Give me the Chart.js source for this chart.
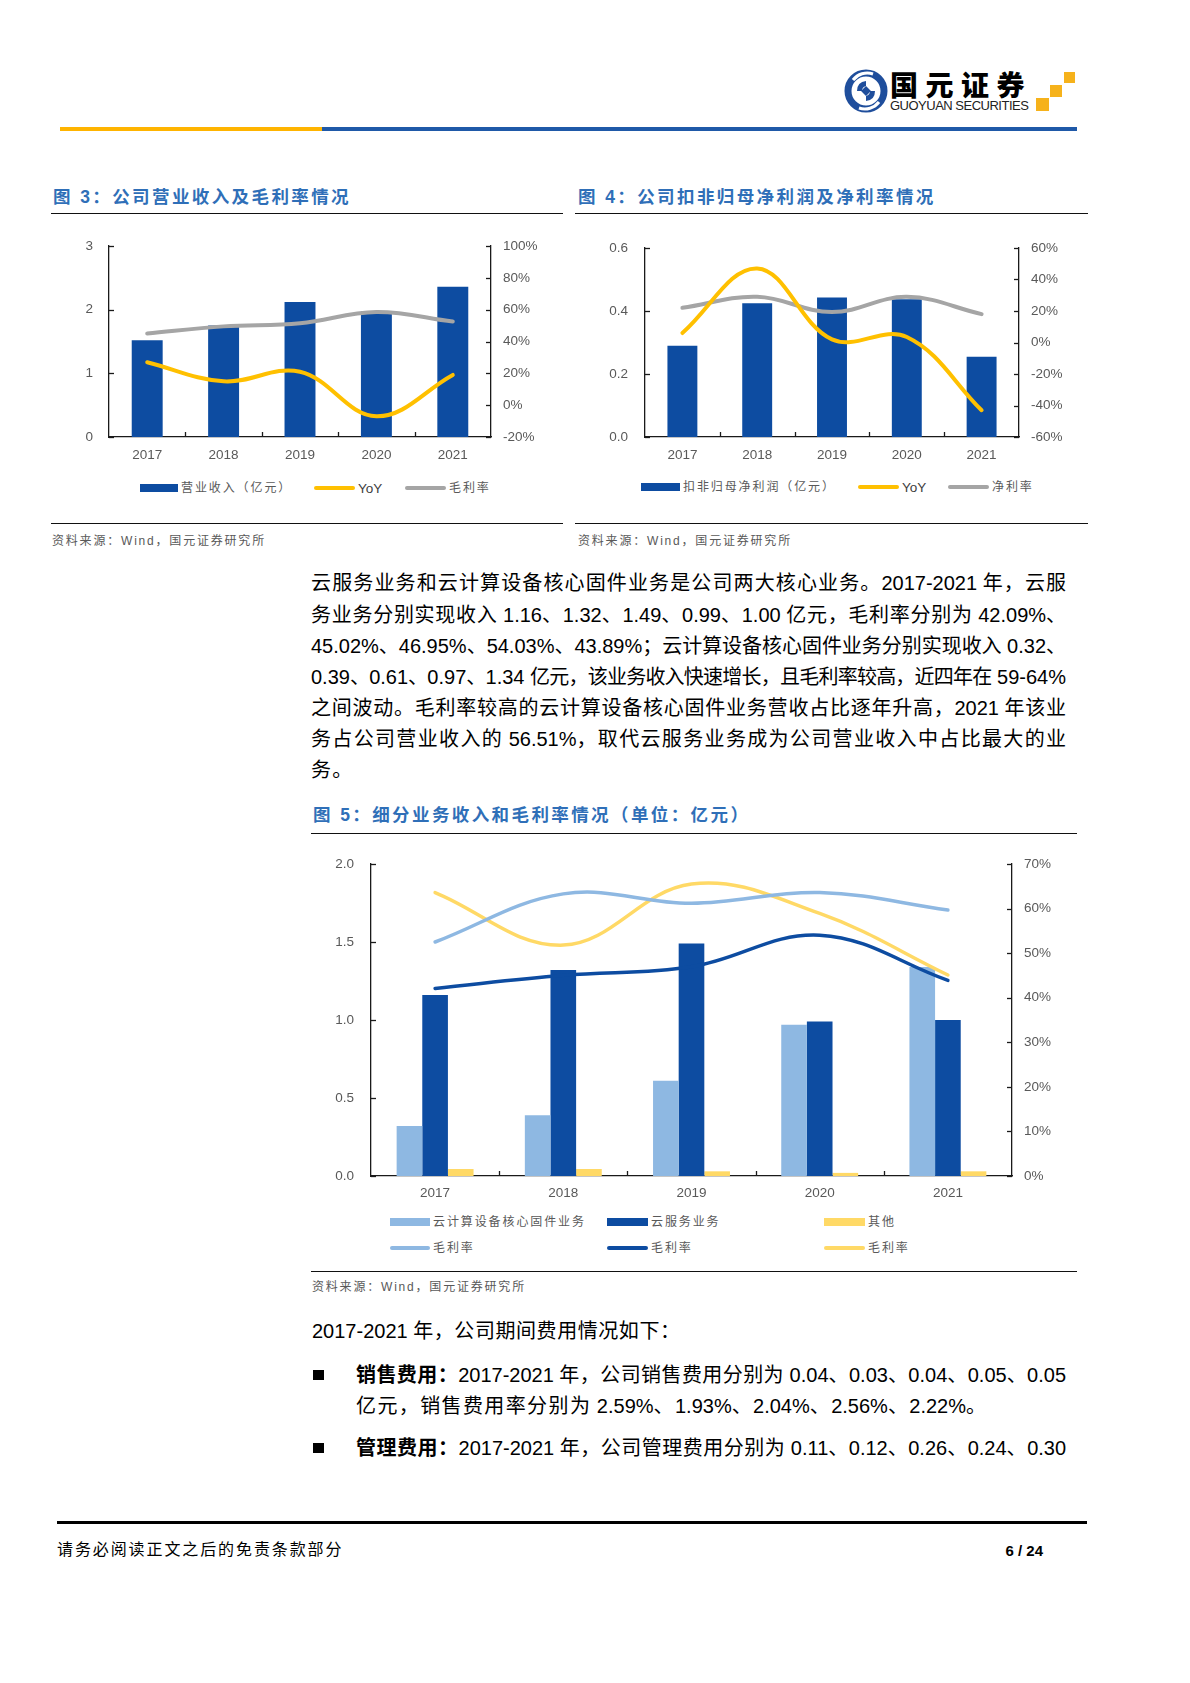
<!DOCTYPE html>
<html><head><meta charset="utf-8">
<script src="https://cdn.jsdelivr.net/npm/chart.js@4.4.1/dist/chart.umd.min.js"></script>
<style>
html,body{margin:0;padding:0;background:#fff;}
body{width:1190px;height:1683px;position:relative;overflow:hidden;font-family:"Liberation Sans","Noto Sans CJK SC",sans-serif;color:#000;}
.abs{position:absolute;}
.rule{position:absolute;height:1.5px;background:#111;}
.ftitle{position:absolute;font-weight:700;font-size:17.5px;color:#2F6FB8;letter-spacing:2.4px;white-space:nowrap;line-height:1;}
.src{position:absolute;font-size:12px;color:#595959;white-space:nowrap;line-height:1;letter-spacing:1.8px;}
.bl{position:absolute;left:311px;font-size:20px;line-height:1;white-space:nowrap;}
.lat{letter-spacing:0 !important;}
.lg{position:absolute;font-size:12px;color:#595959;white-space:nowrap;line-height:1;letter-spacing:1.9px;}
.sw{position:absolute;}
canvas{position:absolute;}
</style>
</head><body>

<!-- header -->
<svg class="abs" style="left:843px;top:68px" width="46" height="46" viewBox="0 0 46 46">
  <circle cx="23" cy="23" r="18" fill="none" stroke="#1F4E9C" stroke-width="7"/>
  <path d="M10 12 A18 18 0 0 1 30 6" stroke="#fff" stroke-width="3" fill="none"/>
  <path d="M36 34 A18 18 0 0 1 16 40" stroke="#fff" stroke-width="3" fill="none"/>
  <path d="M14 23 Q14 14 23 13 L23 18 Q19 19 19 23 Z" fill="#1F4E9C"/>
  <path d="M32 23 Q32 32 23 33 L23 28 Q27 27 27 23 Z" fill="#1F4E9C"/>
  <rect x="19.5" y="19.5" width="7" height="7" fill="#1F4E9C" transform="rotate(45 23 23)"/>
</svg>
<div class="abs" style="left:890px;top:70px;font-size:28px;font-weight:900;letter-spacing:7.5px;line-height:1;font-family:'Noto Sans CJK SC';">国元证券</div>
<div class="abs" style="left:890px;top:99px;font-size:13px;letter-spacing:-0.5px;line-height:1;color:#222;">GUOYUAN SECURITIES</div>
<div class="abs" style="left:1036px;top:98px;width:13px;height:13px;background:#F6B21B"></div>
<div class="abs" style="left:1050px;top:85px;width:12px;height:12px;background:#F6B21B"></div>
<div class="abs" style="left:1064px;top:72px;width:11px;height:11px;background:#F6B21B"></div>
<div class="abs" style="left:60px;top:127px;width:262px;height:3.5px;background:#FFB400"></div>
<div class="abs" style="left:322px;top:127px;width:755px;height:3.5px;background:#1F59A8"></div>

<!-- figure 3 & 4 titles -->
<div class="ftitle" style="left:53px;top:188.6px">图 3：公司营业收入及毛利率情况</div>
<div class="rule" style="left:51px;top:212.5px;width:512px"></div>
<div class="ftitle" style="left:578px;top:188.6px">图 4：公司扣非归母净利润及净利率情况</div>
<div class="rule" style="left:575px;top:212.5px;width:513px"></div>

<canvas id="c3" width="508" height="240" style="left:52px;top:230px;width:508px;height:240px"></canvas>
<canvas id="c4" width="514" height="240" style="left:576px;top:230px;width:514px;height:240px"></canvas>
<div id="lg3"></div>
<div id="lg4"></div>

<div class="rule" style="left:51px;top:522.5px;width:512px"></div>
<div class="rule" style="left:575px;top:522.5px;width:513px"></div>
<div class="src" style="left:52px;top:535px">资料来源：Wind，国元证券研究所</div>
<div class="src" style="left:578px;top:535px">资料来源：Wind，国元证券研究所</div>

<!-- body paragraph -->
<div class="bl j" data-w="755" style="top:573.4px">云服务业务和云计算设备核心固件业务是公司两大核心业务。2017-2021 年，云服</div>
<div class="bl j" data-w="755" style="top:605.4px">务业务分别实现收入 1.16、1.32、1.49、0.99、1.00 亿元，毛利率分别为 42.09%、</div>
<div class="bl j" data-w="755" style="top:636.4px">45.02%、46.95%、54.03%、43.89%；云计算设备核心固件业务分别实现收入 0.32、</div>
<div class="bl j" data-w="755" style="top:667.4px">0.39、0.61、0.97、1.34 亿元，该业务收入快速增长，且毛利率较高，近四年在 59-64%</div>
<div class="bl j" data-w="755" style="top:698.4px">之间波动。毛利率较高的云计算设备核心固件业务营收占比逐年升高，2021 年该业</div>
<div class="bl j" data-w="755" style="top:729.4px">务占公司营业收入的 56.51%，取代云服务业务成为公司营业收入中占比最大的业</div>
<div class="bl" style="top:760.4px;letter-spacing:1.2px">务。</div>

<!-- figure 5 -->
<div class="ftitle" style="left:313px;top:806.6px">图 5：细分业务收入和毛利率情况（单位：亿元）</div>
<div class="rule" style="left:311px;top:832.5px;width:766px"></div>
<canvas id="c5" width="769" height="365" style="left:311px;top:845px;width:769px;height:365px"></canvas>
<div id="lg5"></div>
<div class="rule" style="left:311px;top:1270.5px;width:766px"></div>
<div class="src" style="left:312px;top:1281px">资料来源：Wind，国元证券研究所</div>

<!-- lower text -->
<div class="bl j" data-w="368" style="left:312px;top:1321.4px">2017-2021 年，公司期间费用情况如下：</div>
<div class="abs" style="left:313px;top:1370px;width:11px;height:10px;background:#000"></div>
<div class="bl j" data-w="710" style="left:356px;top:1365.4px"><b>销售费用：</b>2017-2021 年，公司销售费用分别为 0.04、0.03、0.04、0.05、0.05</div>
<div class="bl j" data-w="630" style="left:356px;top:1396.4px">亿元，销售费用率分别为 2.59%、1.93%、2.04%、2.56%、2.22%。</div>
<div class="abs" style="left:313px;top:1443px;width:11px;height:10px;background:#000"></div>
<div class="bl j" data-w="710" style="left:356px;top:1438.4px"><b>管理费用：</b>2017-2021 年，公司管理费用分别为 0.11、0.12、0.26、0.24、0.30</div>

<!-- footer -->
<div class="abs" style="left:57px;top:1520.5px;width:1030px;height:3px;background:#000"></div>
<div class="abs" style="left:57px;top:1542px;font-size:16px;line-height:1;letter-spacing:1.9px;white-space:nowrap;">请务必阅读正文之后的免责条款部分</div>
<div class="abs" style="right:147px;top:1543px;font-size:15px;font-weight:700;line-height:1;white-space:nowrap;">6 / 24</div>

<script>
// ---------- data ----------
const years = ['2017', '2018', '2019', '2020', '2021'];

// Figure 3
const revenue = [1.52, 1.75, 2.12, 1.97, 2.36];          // 营业收入（亿元）
const revenueYoY = [27, 15, 21, -7, 19];                  // YoY (%)
const grossMargin = [45, 49.5, 51.5, 58.5, 52.5];         // 毛利率 (%)

// Figure 4
const deductedNetProfit = [0.29, 0.425, 0.443, 0.437, 0.255]; // 扣非归母净利润（亿元）
const deductedNetProfitYoY = [6, 47, 2, 3.5, -43];            // YoY (%)
const netMargin = [22, 29, 19.3, 29, 18];                     // 净利率 (%)

// Figure 5
const firmwareRevenue = [0.32, 0.39, 0.61, 0.97, 1.34];       // 云计算设备核心固件业务
const cloudServiceRevenue = [1.16, 1.32, 1.49, 0.99, 1.00];   // 云服务业务
const otherRevenue = [0.045, 0.045, 0.03, 0.02, 0.03];        // 其他
const firmwareMargin = [52.5, 63.3, 61.2, 63.6, 59.7];
const cloudServiceMargin = [42.09, 45.02, 46.95, 54.03, 43.89];
const otherMargin = [63.6, 51.8, 65.5, 58.9, 45.1];

// tick label definitions: min, max, step
const fig3LeftTicks = [0, 3, 1];
const fig3RightTicks = [-20, 100, 20];
const fig4LeftTicks = [0, 0.6, 0.2];
const fig4RightTicks = [-60, 60, 20];
const fig5LeftTicks = [0, 2, 0.5];
const fig5RightTicks = [0, 70, 10];

const legend3 = ['营业收入（亿元）', 'YoY', '毛利率'];
const legend4 = ['扣非归母净利润（亿元）', 'YoY', '净利率'];
const legend5 = ['云计算设备核心固件业务', '云服务业务', '其他', '毛利率', '毛利率', '毛利率'];

// ---------- styles ----------
const DARK = '#0D4CA1', LIGHT = '#8EB8E2', GOLD = '#FFC000', PALEGOLD = '#FFD966', GREY = '#A5A5A5';
const AX = '#1a1a1a', TC = '#595959';
const FONT = {family: "'Liberation Sans', Arial, sans-serif", size: 13.5};

const inwardTicks = {
  id: 'inwardTicks',
  beforeDatasetsDraw(chart) {
    const ctx = chart.ctx;
    ctx.save();
    ctx.strokeStyle = AX; ctx.lineWidth = 1.3;
    Object.values(chart.scales).forEach(s => {
      if (s.axis === 'y') {
        s.ticks.forEach((t, i) => {
          const y = Math.round(s.getPixelForTick(i)) + 0.5;
          ctx.beginPath();
          if (s.position === 'left') { ctx.moveTo(s.right, y); ctx.lineTo(s.right + 5, y); }
          else { ctx.moveTo(s.left, y); ctx.lineTo(s.left - 5, y); }
          ctx.stroke();
        });
      } else {
        for (let i = 0; i < s.ticks.length - 1; i++) {
          const x = Math.round((s.getPixelForTick(i) + s.getPixelForTick(i + 1)) / 2) + 0.5;
          ctx.beginPath(); ctx.moveTo(x, s.top); ctx.lineTo(x, s.top - 5); ctx.stroke();
        }
      }
    });
    ctx.restore();
  }
};

// gap = horizontal distance between axis line and its labels (made of an invisible tick length + 3px padding)
function yScale(pos, t, width, gap, fmt) {
  return {
    position: pos, min: t[0], max: t[1],
    grid: {display: false, drawTicks: true, tickLength: gap - 3},
    border: {display: true, color: AX, width: 1.3},
    ticks: {stepSize: t[2], padding: 3, color: TC, font: FONT, callback: fmt},
    afterFit(s) { s.width = width; }
  };
}
function xScale(height, pad) {
  return {
    grid: {display: false, drawTicks: false},
    border: {display: true, color: AX, width: 1.3},
    ticks: {color: TC, font: FONT, padding: pad, maxRotation: 0},
    afterFit(s) { s.height = height; }
  };
}
function lineDs(label, data, color, w) {
  return {type: 'line', label, data, yAxisID: 'y1', borderColor: color, backgroundColor: color,
    borderWidth: w, pointRadius: 0, tension: 0.38, borderCapStyle: 'round', borderJoinStyle: 'round', order: 0};
}
function barDs(label, data, color, cat) {
  return {type: 'bar', label, data, yAxisID: 'y', backgroundColor: color, borderWidth: 0,
    categoryPercentage: cat, barPercentage: 1, order: 1};
}
const common = (padTop, scales) => ({
  responsive: false, animation: false,
  layout: {padding: {top: padTop, left: 0, right: 0, bottom: 0}},
  plugins: {legend: {display: false}, tooltip: {enabled: false}},
  scales
});

// Figure 3
new Chart(document.getElementById('c3'), {
  data: {labels: years, datasets: [
    barDs(legend3[0], revenue, DARK, 0.405),
    lineDs(legend3[1], revenueYoY, GOLD, 4),
    lineDs(legend3[2], grossMargin, GREY, 4)
  ]},
  options: common(16, {
    x: xScale(33, 10),
    y: yScale('left', fig3LeftTicks, 57, 16, v => String(v)),
    y1: yScale('right', fig3RightTicks, 69, 12, v => v + '%')
  }),
  plugins: [inwardTicks]
});

// Figure 4
new Chart(document.getElementById('c4'), {
  data: {labels: years, datasets: [
    barDs(legend4[0], deductedNetProfit, DARK, 0.4),
    lineDs(legend4[1], deductedNetProfitYoY, GOLD, 4),
    lineDs(legend4[2], netMargin, GREY, 4)
  ]},
  options: common(18, {
    x: xScale(33, 10),
    y: yScale('left', fig4LeftTicks, 69, 17, v => Number(v).toFixed(1)),
    y1: yScale('right', fig4RightTicks, 71, 12, v => Math.round(v) + '%')
  }),
  plugins: [inwardTicks]
});

// Figure 5
new Chart(document.getElementById('c5'), {
  data: {labels: years, datasets: [
    barDs(legend5[0], firmwareRevenue, LIGHT, 0.6),
    barDs(legend5[1], cloudServiceRevenue, DARK, 0.6),
    barDs(legend5[2], otherRevenue, PALEGOLD, 0.6),
    lineDs(legend5[3], firmwareMargin, LIGHT, 3.5),
    lineDs(legend5[4], cloudServiceMargin, DARK, 3.5),
    lineDs(legend5[5], otherMargin, PALEGOLD, 3.5)
  ]},
  options: common(19, {
    x: xScale(34, 9),
    y: yScale('left', fig5LeftTicks, 60, 17, v => Number(v).toFixed(1)),
    y1: yScale('right', fig5RightTicks, 68, 12, v => Math.round(v) + '%')
  }),
  plugins: [inwardTicks]
});

// ---------- HTML legends ----------
function addLegend(parentId, items) {
  const p = document.getElementById(parentId);
  items.forEach(it => {
    const sw = document.createElement('div');
    sw.className = 'sw';
    const h = it.kind === 'bar' ? 8 : 4;
    sw.style.cssText = `left:${it.x}px;top:${it.y - h / 2}px;width:${it.w}px;height:${h}px;background:${it.color};` +
      (it.kind === 'line' ? 'border-radius:2px;' : '');
    p.appendChild(sw);
    const t = document.createElement('div');
    t.className = 'lg';
    t.textContent = it.text;
    const latin = /^[A-Za-z]+$/.test(it.text);
    t.style.cssText = `left:${it.x + it.w + 3}px;top:${it.y - (latin ? 6.5 : 6)}px;` +
      (latin ? 'font-size:13.5px;letter-spacing:0;color:#404040;' : '');
    p.appendChild(t);
  });
}
addLegend('lg3', [
  {x: 140, y: 488, w: 38, kind: 'bar', color: DARK, text: legend3[0]},
  {x: 314, y: 488, w: 41, kind: 'line', color: GOLD, text: legend3[1]},
  {x: 405, y: 488, w: 41, kind: 'line', color: GREY, text: legend3[2]}
]);
addLegend('lg4', [
  {x: 641, y: 487, w: 39, kind: 'bar', color: DARK, text: legend4[0]},
  {x: 858, y: 487, w: 41, kind: 'line', color: GOLD, text: legend4[1]},
  {x: 948, y: 487, w: 41, kind: 'line', color: GREY, text: legend4[2]}
]);
addLegend('lg5', [
  {x: 390, y: 1222, w: 40, kind: 'bar', color: LIGHT, text: legend5[0]},
  {x: 607, y: 1222, w: 41, kind: 'bar', color: DARK, text: legend5[1]},
  {x: 824, y: 1222, w: 41, kind: 'bar', color: PALEGOLD, text: legend5[2]},
  {x: 390, y: 1248, w: 40, kind: 'line', color: LIGHT, text: legend5[3]},
  {x: 607, y: 1248, w: 41, kind: 'line', color: DARK, text: legend5[4]},
  {x: 824, y: 1248, w: 41, kind: 'line', color: PALEGOLD, text: legend5[5]}
]);

// ---------- justify text lines: spread CJK characters, keep latin runs tight ----------
function justifyLine(el) {
  const W = parseFloat(el.dataset.w);
  const walker = document.createTreeWalker(el, NodeFilter.SHOW_TEXT);
  const nodes = [];
  while (walker.nextNode()) nodes.push(walker.currentNode);
  let cjk = 0;
  nodes.forEach(n => {
    const frag = document.createDocumentFragment();
    n.textContent.split(/([\x20-\x7E]+)/).forEach(p => {
      if (!p) return;
      if (/^[\x20-\x7E]+$/.test(p)) {
        const s = document.createElement('span'); s.className = 'lat'; s.textContent = p; frag.appendChild(s);
      } else { cjk += p.length; frag.appendChild(document.createTextNode(p)); }
    });
    n.parentNode.replaceChild(frag, n);
  });
  el.style.letterSpacing = '0px';
  const r = document.createRange(); r.selectNodeContents(el);
  const w = r.getBoundingClientRect().width;
  const txt = el.textContent;
  const lastIsCjk = !/[\x20-\x7E]$/.test(txt);
  const gaps = lastIsCjk ? cjk - 1 : cjk;
  if (gaps > 0) el.style.letterSpacing = ((W - w) / gaps) + 'px';
}
document.querySelectorAll('.bl.j').forEach(justifyLine);
</script>
</body></html>
